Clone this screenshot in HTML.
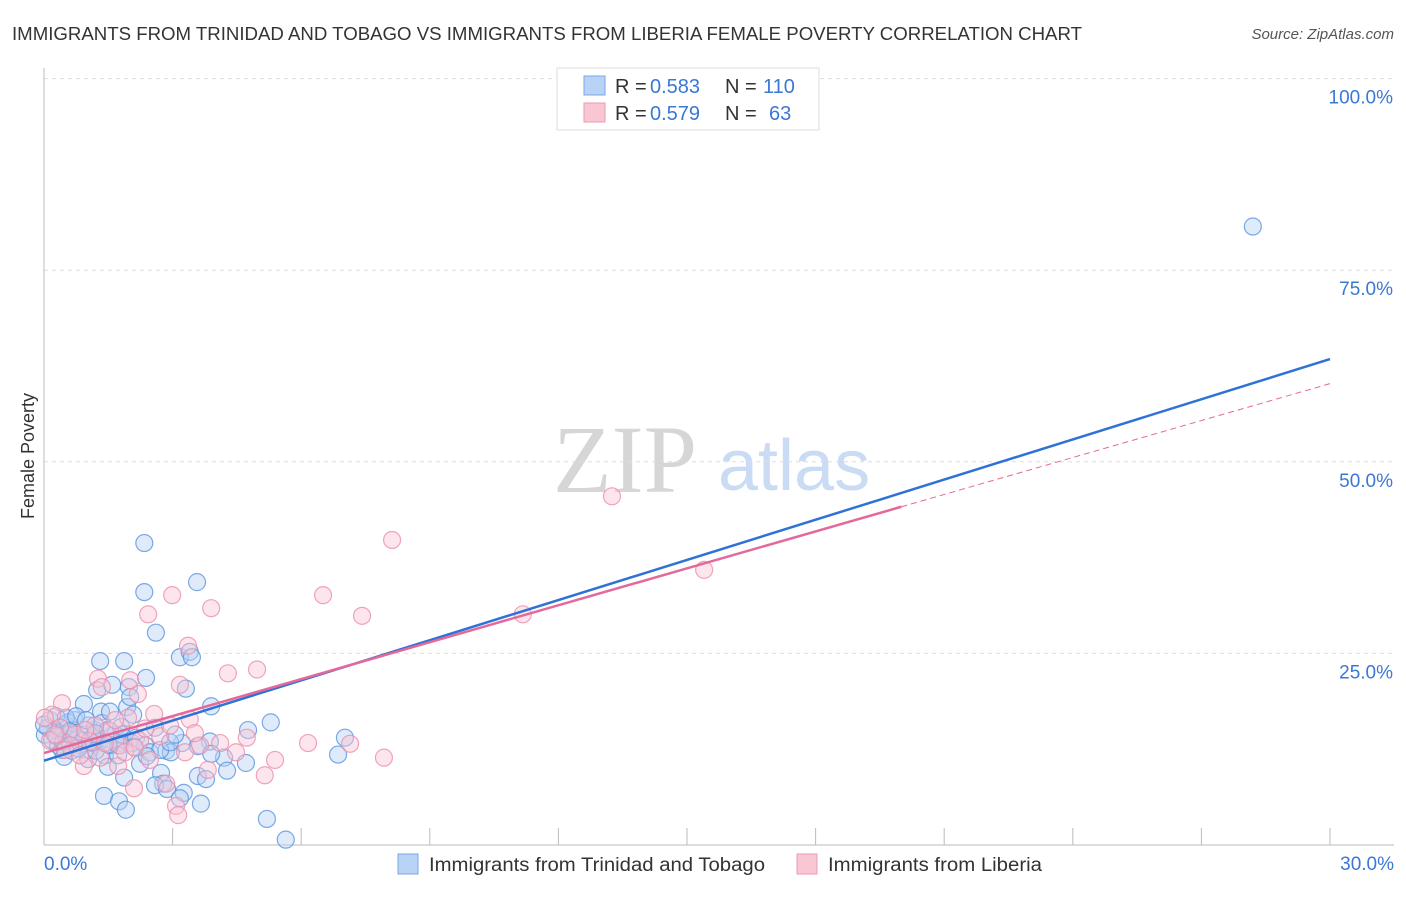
<!DOCTYPE html>
<html><head><meta charset="utf-8"><style>
body{margin:0;background:#fff;font-family:"Liberation Sans",sans-serif;}
svg text{font-family:"Liberation Sans",sans-serif;}
</style></head><body>
<svg id="c" width="1406" height="892" xmlns="http://www.w3.org/2000/svg">
<text x="12" y="40" font-size="18" fill="#333" textLength="1070" lengthAdjust="spacingAndGlyphs">IMMIGRANTS FROM TRINIDAD AND TOBAGO VS IMMIGRANTS FROM LIBERIA FEMALE POVERTY CORRELATION CHART</text>
<text x="1394" y="39" font-size="15" fill="#555" font-style="italic" text-anchor="end">Source: ZipAtlas.com</text>
<text x="34" y="456" font-size="18" fill="#333" text-anchor="middle" transform="rotate(-90 34 456)">Female Poverty</text>
<text x="553" y="492" font-size="96" fill="#d6d6d6" font-family="Liberation Serif" style="font-family:'Liberation Serif',serif">ZIP</text>
<text x="718" y="490" font-size="72" fill="#c9dcf3">atlas</text>
<g id="grid"></g><g id="pts"></g><g id="lines"></g>
<g>
<rect x="557" y="68" width="262" height="62" fill="#fff" stroke="#ddd"/>
<rect x="584" y="76" width="21" height="19" fill="#b8d3f5" stroke="#7aa7e6"/>
<rect x="584" y="103" width="21" height="19" fill="#f9c6d4" stroke="#ee9ab2"/>
<text x="615" y="93" font-size="20" fill="#333">R =</text>
<text x="650" y="93" font-size="20" fill="#3a78d4">0.583</text>
<text x="725" y="93" font-size="20" fill="#333">N =</text>
<text x="763" y="93" font-size="20" fill="#3a78d4">110</text>
<text x="615" y="120" font-size="20" fill="#333">R =</text>
<text x="650" y="120" font-size="20" fill="#3a78d4">0.579</text>
<text x="725" y="120" font-size="20" fill="#333">N =</text>
<text x="769" y="120" font-size="20" fill="#3a78d4">63</text>
</g>
<g>
<rect x="398" y="854" width="20" height="20" fill="#b8d3f5" stroke="#7aa7e6"/>
<text x="429" y="871" font-size="19" fill="#333" textLength="336" lengthAdjust="spacingAndGlyphs">Immigrants from Trinidad and Tobago</text>
<rect x="797" y="854" width="20" height="20" fill="#f9c6d4" stroke="#ee9ab2"/>
<text x="828" y="871" font-size="19" fill="#333" textLength="214" lengthAdjust="spacingAndGlyphs">Immigrants from Liberia</text>
</g>
</svg>
<script>
const yTicks=[25,50,75,100];
const yTickLabels=["25.0%","50.0%","75.0%","100.0%"];
const xTickLabels=["0.0%","30.0%"];
const blueX=[2.34,2.34,3.57,2.61,1.31,1.87,3.17,3.4,3.45,2.38,3.31,1.98,1.24,1.59,3.9,1.94,0.93,1.33,2.01,4.76,5.29,7.02,6.86,2.59,3.22,3.87,3.59,2.85,2.96,4.2,3.9,4.71,4.27,2.24,1.87,2.73,3.59,2.78,3.78,2.59,2.87,3.26,1.4,1.75,1.91,3.66,3.17,5.2,5.64,28.2,0.14,0.26,0.37,0.49,0.61,0.72,0.84,0.96,1.07,1.19,1.31,1.42,1.54,1.66,1.77,0.02,0.09,0.19,0.33,0.42,0.56,0.65,0.79,1.03,1.12,1.21,1.35,1.49,1.73,1.82,2.05,2.15,2.36,2.47,2.71,2.94,3.06,0.47,0.65,1.03,1.21,1.49,1.73,0.0,0.28,0.51,0.75,0.98,1.54,2.08,0.3,0.6,0.9,1.2,1.5,1.8,2.1,2.4,0.45,0.8];
const blueY=[39.4,33.0,34.3,27.7,24.0,24.0,24.5,25.2,24.5,21.8,20.4,20.6,20.2,20.9,18.1,18.0,18.4,17.4,19.3,15.0,16.0,14.0,11.8,15.3,13.3,13.5,12.9,12.3,12.1,11.4,11.9,10.7,9.7,10.6,8.8,9.4,9.0,8.0,8.6,7.8,7.3,6.8,6.4,5.7,4.6,5.4,6.1,3.4,0.7,80.7,16.3,15.0,14.4,15.7,13.7,16.3,13.0,14.4,12.4,15.0,13.7,11.7,13.0,14.4,13.4,14.4,15.3,13.7,13.0,12.4,16.0,15.0,13.9,15.6,13.4,14.4,15.9,15.0,13.0,14.4,13.3,14.0,13.0,12.1,12.4,13.4,14.4,11.5,12.3,11.2,12.3,10.2,11.7,15.7,16.8,16.6,16.8,16.3,17.4,17.0,14.2,14.8,13.6,14.6,13.1,15.4,12.8,11.6,13.5,12.6];
const pinkX=[13.25,8.12,15.4,11.17,6.51,7.42,2.99,2.43,3.9,3.36,4.97,4.29,3.17,2.19,2.01,1.26,1.35,0.42,2.57,3.4,1.96,4.73,6.16,7.14,7.93,5.15,5.39,4.48,3.82,2.85,3.08,3.13,2.1,1.73,0.93,1.31,0.19,0.37,0.72,1.07,1.54,2.24,2.71,3.64,4.11,3.29,2.47,0.14,0.61,1.19,1.77,0.02,0.49,0.84,1.42,1.89,2.36,3.52,2.94,1.66,0.96,0.26,2.12];
const pinkY=[45.5,39.8,35.9,30.1,32.6,29.9,32.6,30.1,30.9,26.0,22.9,22.4,20.9,19.7,21.5,21.7,20.6,18.5,17.1,16.4,16.6,14.0,13.3,13.2,11.4,9.1,11.1,12.1,9.8,8.0,5.1,3.9,7.4,10.3,10.3,11.4,17.0,15.3,14.4,13.5,14.9,13.6,14.2,13.0,13.3,12.1,11.1,13.6,13.0,15.6,13.0,16.6,12.4,11.7,13.3,12.1,15.2,14.6,15.6,16.3,15.0,14.4,12.7];
const blueLine=[11.0,63.4];
const pinkLine=[12.0,60.2];
const pinkSolidEnd=20;
const X=v=>44+v*(1286/30), Y=v=>845-v*(766.4/100);
const NS="http://www.w3.org/2000/svg";
function mk(t,a,p){const e=document.createElementNS(NS,t);for(const k in a)e.setAttribute(k,a[k]);p.appendChild(e);return e;}
const g=document.getElementById('grid');
yTicks.forEach((t,i)=>{
 const l=mk('line',{x1:44,x2:1394,y1:Y(t),y2:Y(t),stroke:'#ddd','stroke-dasharray':'4,4'},g);
 
 
 const tx=mk('text',{x:1393,y:Y(t)+25,'font-size':19,fill:'#3a78d4','text-anchor':'end'},g);
 tx.textContent=yTickLabels[i];
 
 
});
const ax=mk('line',{x1:44,x2:44,y1:68,y2:845,stroke:'#bbb'},g);


const bx=mk('line',{x1:44,x2:1394,y1:845,y2:845,stroke:'#bbb'},g);


for(let i=0;i<=10;i++){
 const t=mk('line',{x1:X(i*3),x2:X(i*3),y1:828,y2:845,stroke:'#bbb'},g);
 
 
}
[[0,'start',44],[30,'end',1394]].forEach((d,i)=>{
 const tx=mk('text',{x:d[2],y:870,'font-size':19,fill:'#3a78d4','text-anchor':d[1]},g);
 tx.textContent=xTickLabels[i];
 
 
});
const p=document.getElementById('pts');
function dots(xs,ys,fill,stroke,name){xs.forEach((x,i)=>{
 const c=mk('circle',{cx:X(x),cy:Y(ys[i]),r:8.5,fill:fill,'fill-opacity':0.45,stroke:stroke,'stroke-opacity':0.8,'stroke-width':1.2},p);
 
 
});}
dots(blueX,blueY,'#b8d3f5','#5b93de','point-trinidad');
dots(pinkX,pinkY,'#f9c6d4','#ec8fab','point-liberia');
const L=document.getElementById('lines');
const b=mk('line',{x1:X(0),y1:Y(blueLine[0]),x2:X(30),y2:Y(blueLine[1]),stroke:'#2f72d6','stroke-width':2.5},L);


const pm=pinkLine[0]+(pinkLine[1]-pinkLine[0])*pinkSolidEnd/30;
const ps=mk('line',{x1:X(0),y1:Y(pinkLine[0]),x2:X(pinkSolidEnd),y2:Y(pm),stroke:'#e4699a','stroke-width':2.5},L);


const pd=mk('line',{x1:X(pinkSolidEnd),y1:Y(pm),x2:X(30),y2:Y(pinkLine[1]),stroke:'#e4699a','stroke-width':1,'stroke-dasharray':'6,4'},L);


</script>
</body></html>
